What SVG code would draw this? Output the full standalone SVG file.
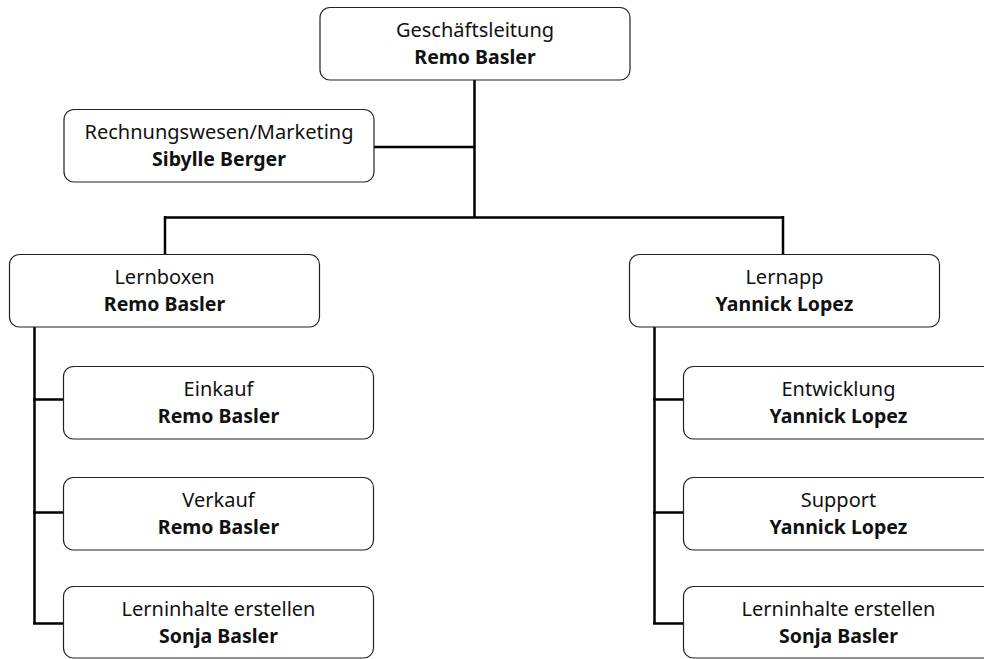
<svg xmlns="http://www.w3.org/2000/svg" width="984" height="659" viewBox="0 0 984 659">
<style>
.box{fill:#fff;stroke:#222;stroke-width:1.2}
.t{font-family:"Noto Sans","Open Sans",sans-serif;font-size:20px;fill:#111;text-anchor:middle}
.b{font-weight:bold;font-size:19.5px}
.c{fill:none;stroke:#000;stroke-width:2.5}
</style>
<rect width="984" height="659" fill="#fff"/>
<g id="connectors">
<path class="c" d="M474.5 80V217.5M374 147H474.5M165 217.5H783M165 216V254M783 216V254"/>
<path class="c" d="M34.5 327V623.5M33 399.5H63M33 512.5H63M33 623.5H63"/>
<path class="c" d="M654.5 327V623.5M653 399.5H684M653 512.5H684M653 623.5H684"/>
</g>
<g id="n-gl"><rect class="box" x="320" y="7.5" width="310" height="72.5" rx="10"/><text class="t" x="475" y="37">Geschäftsleitung</text><text class="t b" x="475" y="64">Remo Basler</text></g>
<g id="n-rw"><rect class="box" x="64" y="109.5" width="310" height="72.5" rx="10"/><text class="t" x="219" y="139">Rechnungswesen/Marketing</text><text class="t b" x="219" y="166">Sibylle Berger</text></g>
<g id="n-lb"><rect class="box" x="9.5" y="254.5" width="310" height="72.5" rx="10"/><text class="t" x="164.5" y="284">Lernboxen</text><text class="t b" x="164.5" y="311">Remo Basler</text></g>
<g id="n-la"><rect class="box" x="629.5" y="254.5" width="310" height="72.5" rx="10"/><text class="t" x="784.5" y="284">Lernapp</text><text class="t b" x="784.5" y="311">Yannick Lopez</text></g>
<g id="n-ek"><rect class="box" x="63.5" y="366.5" width="310" height="72.5" rx="10"/><text class="t" x="218.5" y="396">Einkauf</text><text class="t b" x="218.5" y="423">Remo Basler</text></g>
<g id="n-vk"><rect class="box" x="63.5" y="477.5" width="310" height="72.5" rx="10"/><text class="t" x="218.5" y="507">Verkauf</text><text class="t b" x="218.5" y="534">Remo Basler</text></g>
<g id="n-li1"><rect class="box" x="63.5" y="586.5" width="310" height="71.5" rx="10"/><text class="t" x="218.5" y="616">Lerninhalte erstellen</text><text class="t b" x="218.5" y="643">Sonja Basler</text></g>
<g id="n-ew"><rect class="box" x="683.5" y="366.5" width="310" height="72.5" rx="10"/><text class="t" x="838.5" y="396">Entwicklung</text><text class="t b" x="838.5" y="423">Yannick Lopez</text></g>
<g id="n-sp"><rect class="box" x="683.5" y="477.5" width="310" height="72.5" rx="10"/><text class="t" x="838.5" y="507">Support</text><text class="t b" x="838.5" y="534">Yannick Lopez</text></g>
<g id="n-li2"><rect class="box" x="683.5" y="586.5" width="310" height="71.5" rx="10"/><text class="t" x="838.5" y="616">Lerninhalte erstellen</text><text class="t b" x="838.5" y="643">Sonja Basler</text></g>
</svg>
